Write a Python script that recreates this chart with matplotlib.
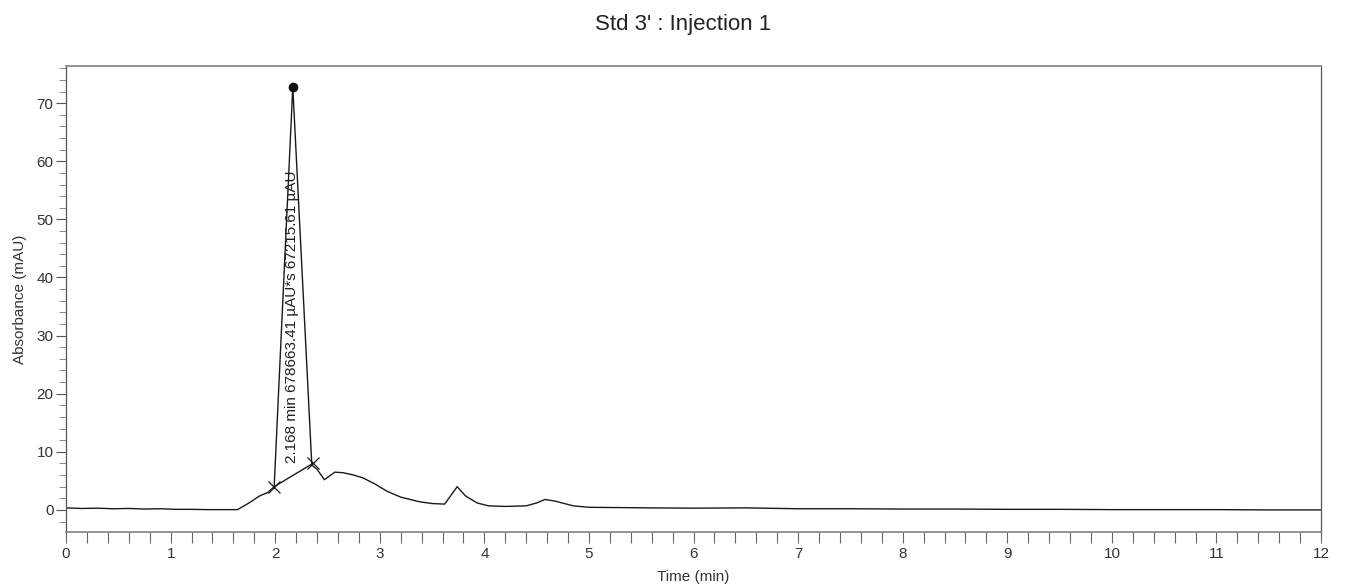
import matplotlib
matplotlib.use("Agg")
import matplotlib.pyplot as plt
from matplotlib.ticker import MultipleLocator

plt.rcParams['font.family'] = ['Liberation Sans', 'DejaVu Sans']

# Chromatogram trace (time in min, absorbance in mAU)
time_min = [0.0, 0.15, 0.3, 0.45, 0.6, 0.75, 0.9, 1.05, 1.2, 1.35, 1.5, 1.64,
            1.75, 1.85, 1.93, 1.99, 2.168, 2.35, 2.40, 2.47, 2.57, 2.65, 2.75,
            2.84, 2.95, 3.07, 3.2, 3.38, 3.5, 3.62, 3.68, 3.74, 3.82, 3.93,
            4.04, 4.2, 4.4, 4.5, 4.58, 4.68, 4.85, 5.0, 5.3, 5.58, 6.0, 6.5,
            7.0, 7.5, 8.0, 8.5, 9.0, 9.5, 10.0, 10.5, 11.0, 11.5, 12.0]
absorbance = [0.35, 0.25, 0.3, 0.2, 0.25, 0.15, 0.2, 0.1, 0.1, 0.05, 0.05, 0.05,
              1.2, 2.4, 3.0, 4.0, 72.8, 7.7, 7.0, 5.2, 6.5, 6.4, 6.0,
              5.5, 4.5, 3.2, 2.2, 1.4, 1.1, 1.0, 2.5, 4.0, 2.4, 1.2,
              0.7, 0.6, 0.7, 1.2, 1.8, 1.5, 0.7, 0.45, 0.4, 0.35, 0.3, 0.35,
              0.2, 0.2, 0.15, 0.15, 0.1, 0.1, 0.05, 0.05, 0.05, 0.0, 0.0]

# Peak annotation
peak_rt = 2.168
peak_height = 72.8
baseline_t = [1.99, 2.36]
baseline_v = [4.0, 8.0]
peak_label = "2.168 min 678663.41 \u00b5AU*s 67215.61 \u00b5AU"

title = "Std 3' : Injection 1"
xlabel = "Time (min)"
ylabel = "Absorbance (mAU)"

fig = plt.figure(figsize=(13.48, 5.87), dpi=100)
ax = fig.add_axes([0.049, 0.0937, 0.931, 0.7939])

ax.plot(time_min, absorbance, color='#1a1a1a', lw=1.0)
ax.plot(baseline_t, baseline_v, color='#1a1a1a', lw=1.0,
        marker='x', markersize=8, markeredgewidth=0.9)
ax.plot([peak_rt], [peak_height], 'o', color='#111111', markersize=6)
ax.text(peak_rt - 0.005, 8.1, peak_label, rotation=90, fontsize=11,
        ha='center', va='bottom', color='#222222')

ax.set_xlim(0, 12)
ax.set_ylim(-3.8, 76.4)
ax.xaxis.set_major_locator(MultipleLocator(1))
ax.xaxis.set_minor_locator(MultipleLocator(0.2))
ax.yaxis.set_major_locator(MultipleLocator(10))
ax.yaxis.set_minor_locator(MultipleLocator(2))
ax.set_yticks(range(0, 80, 10))

ax.tick_params(axis='x', which='both', direction='out', length=8, width=0.8,
               color='#666666', labelsize=11, pad=3, labelcolor='#333333')
ax.tick_params(axis='y', which='major', direction='out', length=7, width=0.8,
               color='#555555', labelsize=11, pad=2, labelcolor='#333333')
ax.tick_params(axis='y', which='minor', direction='out', length=5, width=0.7,
               color='#888888')

for s in ['top', 'bottom']:
    ax.spines[s].set_color('#8a8a8a')
    ax.spines[s].set_linewidth(1.3)
for s in ['left', 'right']:
    ax.spines[s].set_color('#555555')
    ax.spines[s].set_linewidth(0.9)

ax.set_xlabel(xlabel, fontsize=11, color='#333333', labelpad=6)
ax.set_ylabel(ylabel, fontsize=11, color='#333333', labelpad=7)
fig.text(0.507, 0.958, title, ha='center', va='center', fontsize=16,
         color='#222222')

fig.savefig('out.png', dpi=100)
